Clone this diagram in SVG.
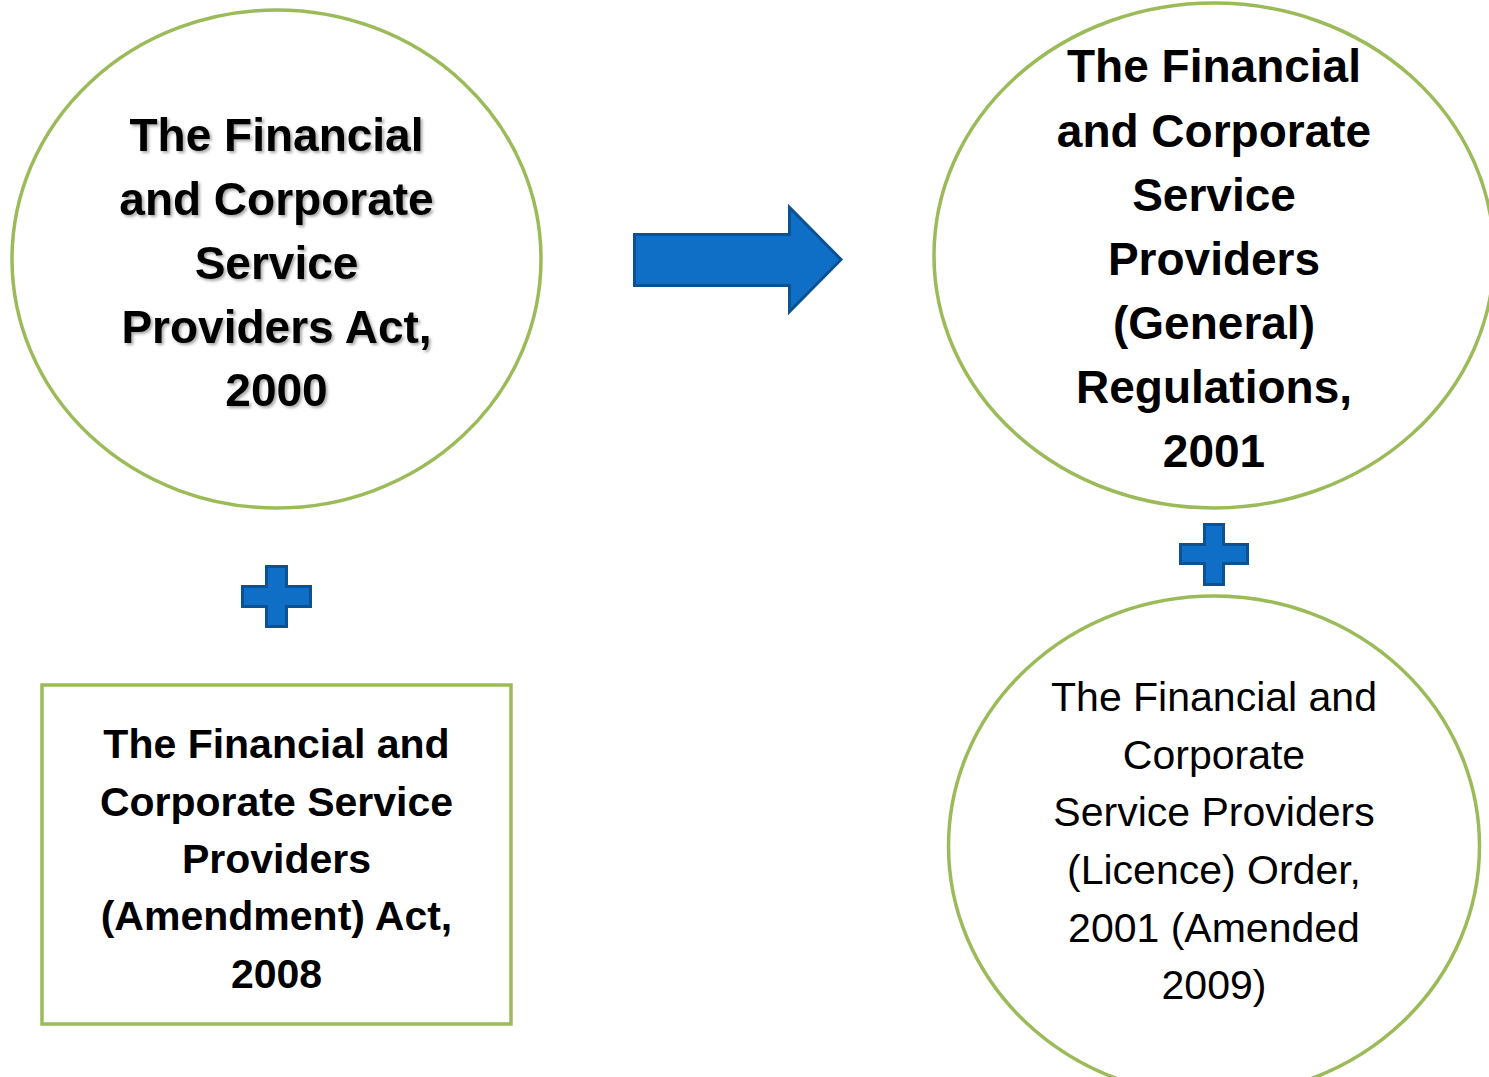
<svg xmlns="http://www.w3.org/2000/svg" width="1489" height="1077" viewBox="0 0 1489 1077">
  <defs>
    <filter id="shadow" x="-10%" y="-10%" width="120%" height="130%">
      <feDropShadow dx="2" dy="2" stdDeviation="1.5" flood-color="#000" flood-opacity="0.35"/>
    </filter>
  </defs>
  <style>
    .frame { fill: #ffffff; stroke: #9BBB59; stroke-width: 3.5; }
    .blue { fill: #0F6FC6; stroke: #0B5294; stroke-width: 3; stroke-linejoin: miter; }
    .t { font-family: "Liberation Sans", Arial, sans-serif; fill: #000000; text-anchor: middle; }
    .b46 { font-size: 46px; font-weight: bold; }
    .b41 { font-size: 41px; font-weight: bold; }
    .r41 { font-size: 41px; font-weight: normal; }
  </style>
  <rect width="1489" height="1077" fill="#ffffff"/>

  <g id="node-act-2000">
    <ellipse class="frame" cx="276.5" cy="259" rx="264.5" ry="249"/>
    <text class="t b46" filter="url(#shadow)"><tspan x="276.5" y="151">The Financial</tspan><tspan x="276.5" y="215">and Corporate</tspan><tspan x="276.5" y="279">Service</tspan><tspan x="276.5" y="343">Providers Act,</tspan><tspan x="276.5" y="406">2000</tspan></text>
  </g>

  <g id="node-amendment-2008">
    <rect class="frame" x="42" y="685" width="469" height="339"/>
    <text class="t b41"><tspan x="276.5" y="758">The Financial and</tspan><tspan x="276.5" y="816">Corporate Service</tspan><tspan x="276.5" y="873">Providers</tspan><tspan x="276.5" y="930">(Amendment) Act,</tspan><tspan x="276.5" y="988">2008</tspan></text>
  </g>

  <g id="node-regulations-2001">
    <ellipse class="frame" cx="1214" cy="255.5" rx="280" ry="252.5"/>
    <text class="t b46"><tspan x="1214" y="82">The Financial</tspan><tspan x="1214" y="147">and Corporate</tspan><tspan x="1214" y="211">Service</tspan><tspan x="1214" y="275">Providers</tspan><tspan x="1214" y="339">(General)</tspan><tspan x="1214" y="403">Regulations,</tspan><tspan x="1214" y="467">2001</tspan></text>
  </g>

  <g id="node-licence-order-2001">
    <ellipse class="frame" cx="1214" cy="846" rx="265.5" ry="250"/>
    <text class="t r41"><tspan x="1214" y="711">The Financial and</tspan><tspan x="1214" y="769">Corporate</tspan><tspan x="1214" y="826">Service Providers</tspan><tspan x="1214" y="884">(Licence) Order,</tspan><tspan x="1214" y="942">2001 (Amended</tspan><tspan x="1214" y="999">2009)</tspan></text>
  </g>

  <g id="connectors">
    <polygon id="arrow-right" class="blue" points="634.5,234.5 789.5,234.5 789.5,207.5 841,259.5 789.5,311.5 789.5,285.5 634.5,285.5"/>
    <polygon id="plus-left" class="blue" points="266.5,566.5 286.5,566.5 286.5,586.5 310.5,586.5 310.5,606.5 286.5,606.5 286.5,626.5 266.5,626.5 266.5,606.5 242.5,606.5 242.5,586.5 266.5,586.5"/>
    <polygon id="plus-right" class="blue" points="1204.5,524.5 1223.5,524.5 1223.5,544.5 1247.5,544.5 1247.5,563.5 1223.5,563.5 1223.5,584.5 1204.5,584.5 1204.5,563.5 1180.5,563.5 1180.5,544.5 1204.5,544.5"/>
  </g>
</svg>
